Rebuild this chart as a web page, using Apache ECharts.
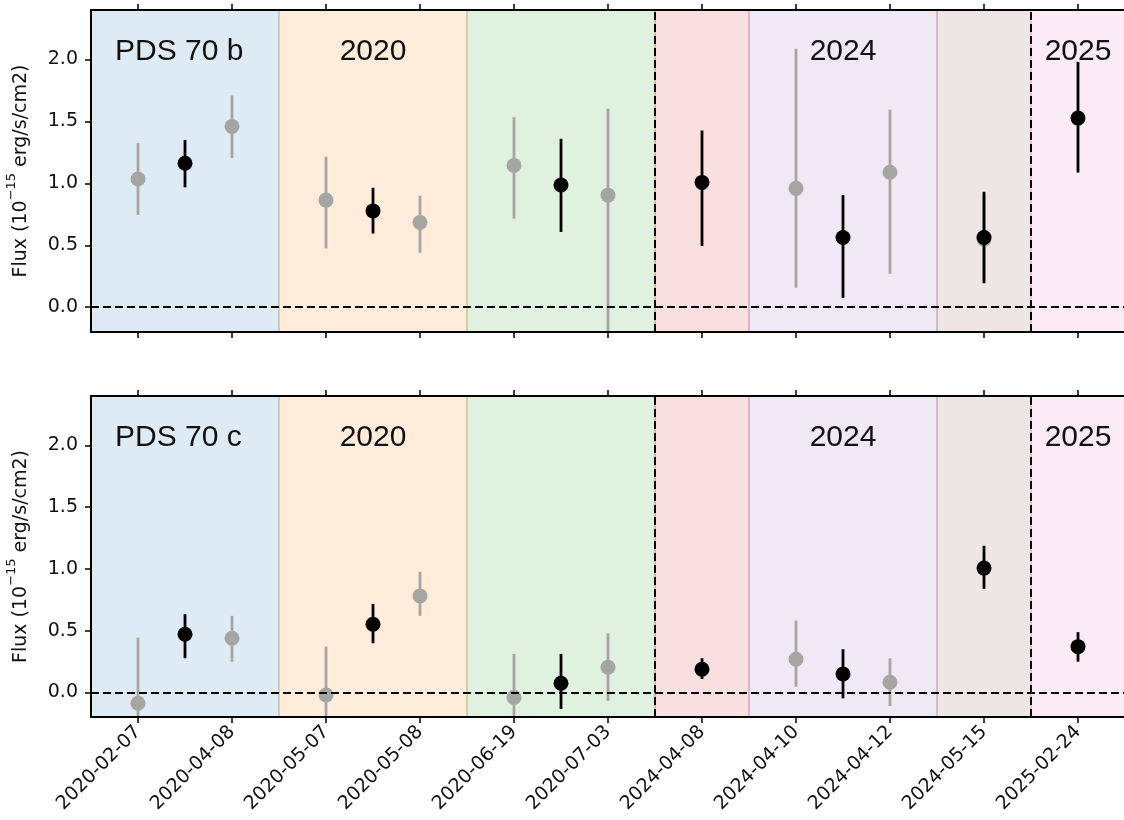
<!DOCTYPE html>
<html><head><meta charset="utf-8">
<script src="https://cdn.jsdelivr.net/npm/echarts@6/dist/echarts.min.js"></script>
<style>html,body{margin:0;padding:0;background:#fff}#c{width:1124px;height:820px}</style>
</head><body><div id="c"></div>
<script>
// ---------- data ----------
const dates = ['2020-02-07','2020-04-08','2020-05-07','2020-05-08','2020-06-19','2020-07-03','2024-04-08','2024-04-10','2024-04-12','2024-05-15','2025-02-24'];
const tickPositions = [0,1,2,3,4,5,6,7,8,9,10];
const yTicks = [0, 0.5, 1, 1.5, 2];
const bandStarts = [-0.5, 1.5, 3.5, 5.5, 6.5, 8.5, 9.5];
const bandEnds   = [1.5, 3.5, 5.5, 6.5, 8.5, 9.5, 10.5];
const bandColors = ['31,119,180','255,127,14','44,160,44','214,39,40','148,103,189','140,86,75','227,119,194'];
const yearLabels = ['2020','2024','2025'];
const yearCenters = [2.5, 7.5, 10];
const epochDividers = [5.5, 9.5];
const panelNames = ['PDS 70 b','PDS 70 c'];

// PDS 70 b
const bGreyX  = [0, 1, 2, 3, 4, 5, 7, 8, 9];
const bGreyY  = [1.035, 1.46, 0.865, 0.685, 1.145, 0.905, 0.96, 1.09, 0.55];
const bGreyLo = [0.745, 1.205, 0.475, 0.44, 0.715, -0.3, 0.157, 0.27, 0.19];
const bGreyHi = [1.325, 1.71, 1.215, 0.90, 1.535, 1.603, 2.087, 1.595, 0.91];
const bBlackX  = [0.5, 2.5, 4.5, 6, 7.5, 9, 10];
const bBlackY  = [1.163, 0.778, 0.987, 1.008, 0.563, 0.563, 1.527];
const bBlackLo = [0.968, 0.595, 0.608, 0.495, 0.076, 0.195, 1.087];
const bBlackHi = [1.351, 0.965, 1.36, 1.427, 0.905, 0.932, 1.981];

// PDS 70 c
const cGreyX  = [0, 1, 2, 3, 4, 5, 7, 8];
const cGreyY  = [-0.089, 0.438, -0.022, 0.781, -0.041, 0.203, 0.268, 0.081];
const cGreyLo = [-0.62, 0.248, -0.41, 0.619, -0.39, -0.071, 0.045, -0.111];
const cGreyHi = [0.443, 0.619, 0.37, 0.976, 0.311, 0.478, 0.581, 0.276];
const cBlackX  = [0.5, 2.5, 4.5, 6, 7.5, 9, 10];
const cBlackY  = [0.47, 0.551, 0.073, 0.187, 0.148, 1.006, 0.37];
const cBlackLo = [0.276, 0.397, -0.135, 0.108, -0.049, 0.838, 0.248];
const cBlackHi = [0.633, 0.716, 0.311, 0.276, 0.349, 1.187, 0.487];

// ---------- chart ----------
const FONT = 'DejaVu Sans';
const BIG = 'Liberation Sans';
const GREY = '#a5a6a1';
const grids = [
  {left: 91, top: 10, width: 1034, height: 322, containLabel: false, outerBoundsMode: 'none'},
  {left: 91, top: 396, width: 1034, height: 321, containLabel: false, outerBoundsMode: 'none'}
];
const panels = [
  {gx: bGreyX, gy: bGreyY, glo: bGreyLo, ghi: bGreyHi, kx: bBlackX, ky: bBlackY, klo: bBlackLo, khi: bBlackHi},
  {gx: cGreyX, gy: cGreyY, glo: cGreyLo, ghi: cGreyHi, kx: cBlackX, ky: cBlackY, klo: cBlackLo, khi: cBlackHi}
];

const xAxes = [], yAxes = [], series = [];
grids.forEach((g, gi) => {
  const showLabels = gi === 1;
  xAxes.push({
    type: 'value', gridIndex: gi, position: 'bottom', min: -0.5, max: 10.5, z: 10,
    axisLine: {show: true, onZero: false, lineStyle: {color: '#000', width: 2}},
    axisTick: {show: true, customValues: tickPositions, length: 6, lineStyle: {color: '#000', width: 1.5}},
    axisLabel: {show: showLabels, customValues: tickPositions, rotate: 45, margin: 12,
      fontFamily: FONT, fontSize: 19, color: '#111',
      formatter: v => dates[Math.round(v)] || ''},
    splitLine: {show: false}
  });
  xAxes.push({
    type: 'value', gridIndex: gi, position: 'top', min: -0.5, max: 10.5, z: 10,
    axisLine: {show: true, onZero: false, lineStyle: {color: '#000', width: 2}},
    axisTick: {show: true, customValues: tickPositions, length: 6, lineStyle: {color: '#000', width: 1.5}},
    axisLabel: {show: false}, splitLine: {show: false}
  });
  yAxes.push({
    type: 'value', gridIndex: gi, position: 'left', min: -0.2, max: 2.4, z: 10,
    axisLine: {show: true, onZero: false, lineStyle: {color: '#000', width: 2}},
    axisTick: {show: true, customValues: yTicks, length: 6, lineStyle: {color: '#000', width: 1.5}},
    axisLabel: {show: true, customValues: yTicks, margin: 13, fontFamily: FONT, fontSize: 19, color: '#111',
      formatter: v => v.toFixed(1)},
    splitLine: {show: false},
    name: '{a|Flux (10}{s|−15}{a| erg/s/cm2)}',
    nameLocation: 'middle', nameRotate: 90, nameGap: 60,
    nameTextStyle: {rich: {
      a: {fontFamily: FONT, fontSize: 19, color: '#111', lineHeight: 26, verticalAlign: 'bottom'},
      s: {fontFamily: FONT, fontSize: 13, color: '#111', lineHeight: 26, verticalAlign: 'top'}
    }}
  });
  yAxes.push({
    type: 'value', gridIndex: gi, position: 'right', min: -0.2, max: 2.4, z: 10,
    axisLine: {show: true, onZero: false, lineStyle: {color: '#000', width: 2}},
    axisTick: {show: false}, axisLabel: {show: false}, splitLine: {show: false}
  });

  const xi = gi * 2, yi = gi * 2;
  const marks = [{coord: [-0.25, 2.065], value: panelNames[gi], label: {position: 'right', distance: 0}}];
  yearLabels.forEach((t, k) => marks.push({coord: [yearCenters[k], 2.065], value: t, label: {position: 'inside'}}));
  series.push({
    type: 'line', xAxisIndex: xi, yAxisIndex: yi, data: [], z: 1, silent: true,
    markArea: {silent: true, data: bandStarts.map((s, k) => [
      {xAxis: s, yAxis: -0.2, itemStyle: {color: 'rgba(' + bandColors[k] + ',0.15)', borderColor: 'rgba(' + bandColors[k] + ',0.22)', borderWidth: 1.5}},
      {xAxis: bandEnds[k], yAxis: 2.4}
    ])},
    markLine: {silent: true, symbol: 'none', label: {show: false},
      lineStyle: {color: '#000', type: [8, 4], width: 2},
      data: [{yAxis: 0}].concat(epochDividers.map(v => ({xAxis: v})))},
    markPoint: {silent: true, symbol: 'circle', symbolSize: 1, itemStyle: {color: 'rgba(0,0,0,0)'},
      label: {show: true, fontFamily: BIG, fontSize: 30, color: '#111', formatter: p => p.value},
      data: marks}
  });

  const p = panels[gi];
  const err = (xs, lo, hi, color, z) => ({
    type: 'custom', xAxisIndex: xi, yAxisIndex: yi, z: z, clip: true, silent: true,
    data: xs.map((x, i) => [x, lo[i], hi[i]]),
    encode: {x: 0, y: [1, 2]},
    renderItem: (params, api) => {
      const a = api.coord([api.value(0), api.value(1)]);
      const b = api.coord([api.value(0), api.value(2)]);
      return {type: 'line', shape: {x1: a[0], y1: a[1], x2: b[0], y2: b[1]},
        style: {stroke: color, lineWidth: 2.8}};
    }
  });
  series.push(err(p.gx, p.glo, p.ghi, GREY, 3));
  series.push({type: 'scatter', xAxisIndex: xi, yAxisIndex: yi, z: 4, silent: true, symbolSize: 15,
    itemStyle: {color: GREY, opacity: 1}, data: p.gx.map((x, i) => [x, p.gy[i]])});
  series.push(err(p.kx, p.klo, p.khi, '#000', 5));
  series.push({type: 'scatter', xAxisIndex: xi, yAxisIndex: yi, z: 6, silent: true, symbolSize: 15,
    itemStyle: {color: '#000', opacity: 1}, data: p.kx.map((x, i) => [x, p.ky[i]])});
});

const chart = echarts.init(document.getElementById('c'), null, {renderer: 'canvas'});
chart.setOption({
  animation: false,
  backgroundColor: '#fff',
  grid: grids,
  xAxis: xAxes,
  yAxis: yAxes,
  series: series
});
</script></body></html>
